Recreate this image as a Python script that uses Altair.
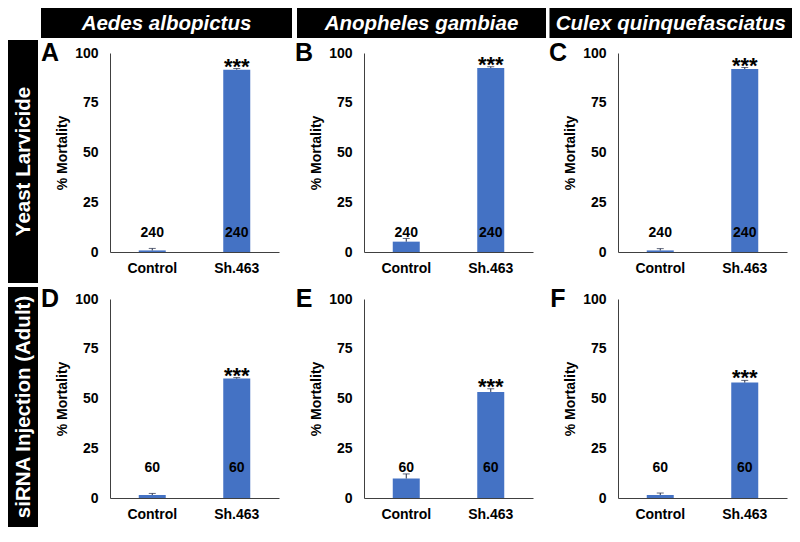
import altair as alt
import pandas as pd

# ---------------- data ----------------
species = ["Aedes albopictus", "Anopheles gambiae", "Culex quinquefasciatus"]
treatments = ["Yeast Larvicide", "siRNA Injection (Adult)"]
panel_letters = [["A", "B", "C"], ["D", "E", "F"]]
groups = ["Control", "Sh.463"]
significance = ["", "***"]
sample_sizes = [240, 60]
y_ticks = [0, 25, 50, 75, 100]

yeast_mean = [[0.8, 91.6], [5.2, 92.5], [0.8, 91.9]]
yeast_err = [[1.0, 0.6], [1.6, 0.6], [0.9, 0.8]]
sirna_mean = [[1.5, 60.0], [9.8, 53.3], [1.5, 58.0]]
sirna_err = [[0.8, 0.5], [2.3, 1.6], [1.0, 1.1]]

means = [yeast_mean, sirna_mean]
errs = [yeast_err, sirna_err]

# ---------------- style ----------------
FONT = "Liberation Sans"
BLUE = "#4472C4"
ERR = "#1f2a44"
W, H = 169, 199
COL_SPACING, ROW_SPACING = 85, 47
header_x = [(-69, 182), (-67, 182), (-68.5, 174)]
header_y = (-45, -15)
rowbox_x = (-102, -72)
rowbox_y = [(-13, 230), (-12, 228)]
n_level = [9.7, 15.3]


def panel(r, c):
    df = pd.DataFrame({
        "group": groups,
        "mean": means[r][c],
        "err": errs[r][c],
        "sig": significance,
        "n": [str(sample_sizes[r])] * len(groups),
    })
    df["top"] = df["mean"] + df["err"]

    yscale = alt.Scale(domain=[0, 100], nice=False)
    yaxis = alt.Axis(values=y_ticks, title="% Mortality")
    base = alt.Chart(df).encode(
        x=alt.X("group:N", sort=groups, axis=alt.Axis(title=None, labelAngle=0))
    )
    bars = base.mark_bar(size=27, color=BLUE).encode(
        y=alt.Y("mean:Q", scale=yscale, axis=yaxis)
    )
    whisk = base.mark_rule(color=ERR, strokeWidth=1).encode(
        y=alt.Y("mean:Q", scale=yscale, axis=yaxis), y2="top:Q"
    )
    cap = base.mark_tick(color=ERR, size=7, thickness=1, orient="horizontal").encode(
        y=alt.Y("top:Q", scale=yscale, axis=yaxis)
    )
    stars = base.mark_text(font=FONT, fontWeight="bold", fontSize=22,
                           baseline="alphabetic", dy=5, color="black").encode(
        y=alt.Y("top:Q", scale=yscale, axis=yaxis), text="sig:N"
    )
    ns = base.mark_text(font=FONT, fontWeight="bold", fontSize=14,
                        baseline="middle", color="black").encode(
        y=alt.datum(n_level[r]), text="n:N"
    )
    letter = alt.Chart(pd.DataFrame({"t": [panel_letters[r][c]]})).mark_text(
        font=FONT, fontWeight="bold", fontSize=25, align="center",
        baseline="alphabetic", color="black"
    ).encode(x=alt.value(-60), y=alt.value(8), text="t:N")

    layers = [bars, whisk, cap, stars, ns, letter]

    if r == 0:
        hx0, hx1 = header_x[c]
        hdf = pd.DataFrame({"t": [species[c]]})
        hbox = alt.Chart(hdf).mark_rect(color="black").encode(
            x=alt.value(hx0), x2=alt.value(hx1),
            y=alt.value(header_y[0]), y2=alt.value(header_y[1])
        )
        htxt = alt.Chart(hdf).mark_text(
            font=FONT, fontWeight="bold", fontStyle="italic", fontSize=20.5,
            color="white", align="center", baseline="middle"
        ).encode(x=alt.value((hx0 + hx1) / 2), y=alt.value(sum(header_y) / 2 + 1), text="t:N")
        layers += [hbox, htxt]

    if c == 0:
        rdf = pd.DataFrame({"t": [treatments[r]]})
        ry0, ry1 = rowbox_y[r]
        rbox = alt.Chart(rdf).mark_rect(color="black").encode(
            x=alt.value(rowbox_x[0]), x2=alt.value(rowbox_x[1]),
            y=alt.value(ry0), y2=alt.value(ry1)
        )
        rtxt = alt.Chart(rdf).mark_text(
            font=FONT, fontWeight="bold", fontSize=20.5, color="white",
            align="center", baseline="middle", angle=270
        ).encode(x=alt.value((rowbox_x[0] + rowbox_x[1]) / 2 + 1),
                 y=alt.value((ry0 + ry1) / 2), text="t:N")
        layers += [rbox, rtxt]

    return alt.layer(*layers).properties(width=W, height=H)


panels = [panel(r, c) for r in range(2) for c in range(3)]

chart = alt.concat(
    *panels, columns=3, spacing={"row": ROW_SPACING, "column": COL_SPACING},
    bounds="flush"
).properties(padding=0).configure_view(stroke=None).configure_axis(
    labelFont=FONT, labelFontSize=14, labelFontWeight="bold", labelColor="black",
    titleFont=FONT, titleFontSize=14, titleFontWeight="bold", titleColor="black",
    ticks=False, tickSize=0, grid=False, domainColor="#404040", domainWidth=1
).configure_axisY(labelPadding=12, titlePadding=5).configure_axisX(labelPadding=9)

chart.save("out.html", embed_options={"renderer": "svg", "actions": False})
